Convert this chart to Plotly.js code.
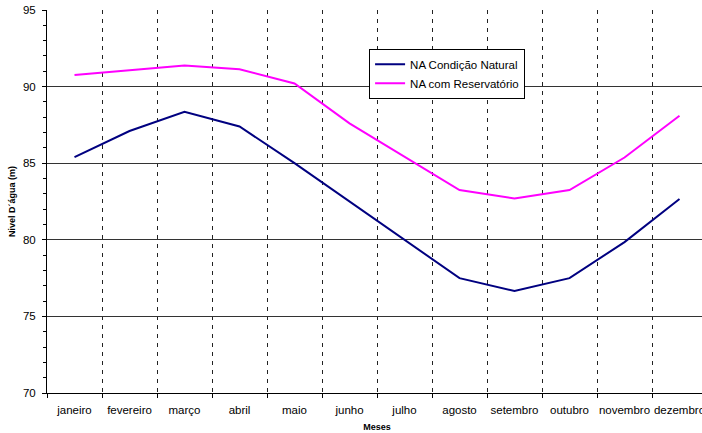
<!DOCTYPE html>
<html><head><meta charset="utf-8">
<script src="https://cdn.plot.ly/plotly-3.0.1.min.js"></script>
<style>html,body{margin:0;padding:0;overflow:hidden;background:#fff;width:702px;height:433px}#c{width:712px;height:433px}</style>
</head><body><div id="c"></div>
<script>
const meses = ["janeiro","fevereiro","março","abril","maio","junho","julho","agosto","setembro","outubro","novembro","dezembro"];
const naNatural = [85.4, 87.1, 88.35, 87.4, 85.0, 82.5, 80.05, 77.5, 76.66, 77.5, 79.85, 82.66];
const naReservatorio = [90.75, 91.05, 91.37, 91.13, 90.2, 87.6, 85.4, 83.25, 82.7, 83.25, 85.37, 88.1];
const yTicks = [70, 75, 80, 85, 90, 95];

const font = {family: "Liberation Sans, Arial, sans-serif", size: 11.5, color: "#000"};
const traces = [
  {x: meses, y: naNatural, type: "scatter", mode: "lines", name: "NA Condição Natural",
   line: {color: "#000080", width: 2}},
  {x: meses, y: naReservatorio, type: "scatter", mode: "lines", name: "NA com Reservatório",
   line: {color: "#FF00FF", width: 2}}
];
const layout = {
  width: 712, height: 433,
  margin: {l: 47, r: 5, t: 10, b: 40},
  paper_bgcolor: "#fff", plot_bgcolor: "#fff",
  font: font,
  showlegend: true,
  legend: {x: 0.488, y: 0.899, xanchor: "left", yanchor: "top",
    bgcolor: "#fff", bordercolor: "#000", borderwidth: 1,
    font: {family: font.family, size: 11.5, color: "#000"}, tracegroupgap: 0,
    itemwidth: 30},
  xaxis: {
    type: "category", range: [-0.5, 11.5], tickangle: 0, ticklabelstandoff: 6,
    tickson: "boundaries", ticks: "outside", ticklen: 4, tickcolor: "#000",
    showgrid: true, gridcolor: "#222", griddash: "4px,5px", gridwidth: 1,
    showline: true, linecolor: "#000", linewidth: 1,
    zeroline: false, tickfont: font,
    title: {text: "Meses", font: {family: font.family, size: 9, color: "#000", weight: "bold"}, standoff: 8}
  },
  yaxis: {
    range: [70, 95], tickvals: yTicks, ticks: "outside", ticklen: 4, tickcolor: "#000",
    showgrid: true, gridcolor: "#333", gridwidth: 1, ticklabelstandoff: 4,
    showline: true, linecolor: "#000", linewidth: 1, zeroline: false,
    minor: {dtick: 1, ticks: "outside", ticklen: 3, tickcolor: "#000", showgrid: false},
    tickfont: font,
    title: {text: "Nivel D´água (m)", font: {family: font.family, size: 9, color: "#000", weight: "bold"}, standoff: 5}
  }
};
Plotly.newPlot("c", traces, layout, {displayModeBar: false, staticPlot: true});
</script></body></html>
